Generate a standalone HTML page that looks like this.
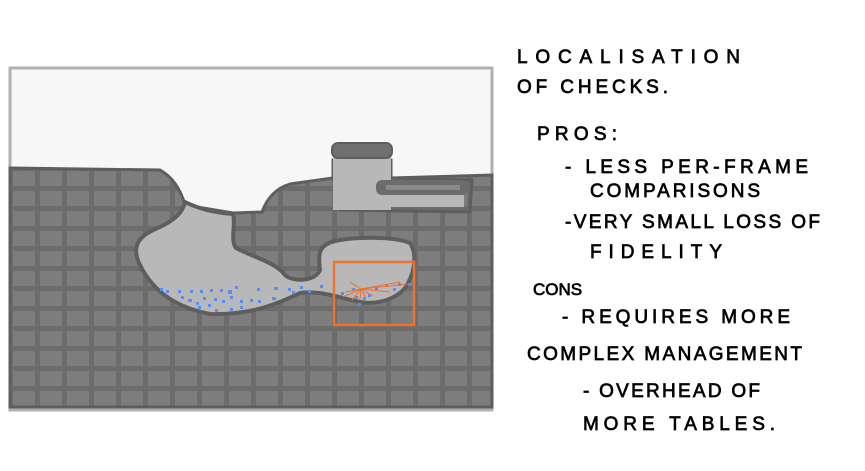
<!DOCTYPE html>
<html><head><meta charset="utf-8"><style>
html,body{margin:0;padding:0;background:#fff;width:865px;height:471px;overflow:hidden}
text{font-family:"Liberation Sans",sans-serif;font-size:19px;fill:#000;stroke:#000;stroke-width:0.7}
</style></head><body>
<svg width="865" height="471" viewBox="0 0 865 471" xmlns="http://www.w3.org/2000/svg">
<defs>
<pattern id="g" x="10" y="168" width="27" height="20" patternUnits="userSpaceOnUse">
<rect width="27" height="20" fill="#6c6c6c"/>
<rect x="3" y="3" width="22" height="15" fill="#7d7d7d"/>
</pattern>
</defs>
<rect x="10" y="68" width="482" height="342" fill="#f7f7f7" stroke="#b0b0b0" stroke-width="3"/>
<path d="M10,168 L160,170 Q178,180 185,205 L233,213 L262,212 Q270,190 290,184 L333,178 L333,160 L391,160 L391,178 L492,175 L492,407 L10,407 Z" fill="url(#g)" stroke="#5e5e5e" stroke-width="3"/>
<path d="M185,202 Q205,212 233,214 C236,225 230,240 236,248 C255,258 275,262 285,275 C292,282 315,282 320,270 C318,255 318,245 335,241 C360,236 395,237 410,243 C418,255 414,275 405,288 C395,300 375,305 360,302 C340,298 320,290 300,293 C275,305 250,315 210,314 C180,308 155,295 140,265 C130,245 140,235 160,227 C175,220 183,212 185,202 Z" fill="#b8b8b8" stroke="#5e5e5e" stroke-width="4"/>
<path d="M340,180 L340,210 L470,212 L472,180 L380,178" fill="url(#g)" stroke="#5e5e5e" stroke-width="3"/>
<rect x="333" y="155" width="58" height="55" fill="#b8b8b8"/>
<rect x="388" y="195" width="76" height="12" fill="#b8b8b8"/>
<rect x="376" y="180" width="92" height="15" rx="6" fill="#6c6c6c"/>
<rect x="386" y="185" width="74" height="5" fill="#8a8a8a"/>
<rect x="332" y="143" width="60" height="15" rx="6" fill="#707070" stroke="#5e5e5e" stroke-width="2"/>
<g fill="#5b8cf0">
<rect x="160" y="288" width="3" height="3"/><rect x="166" y="290" width="3" height="3"/><rect x="178" y="290" width="3" height="3"/><rect x="190" y="290" width="3" height="3"/><rect x="200" y="290" width="3" height="3"/><rect x="210" y="289" width="3" height="3"/><rect x="220" y="289" width="3" height="3"/><rect x="228" y="290" width="4" height="4"/><rect x="235" y="286" width="3" height="3"/><rect x="257" y="288" width="3" height="3"/><rect x="274" y="287" width="4" height="3"/><rect x="288" y="288" width="3" height="3"/><rect x="300" y="286" width="3" height="3"/><rect x="320" y="285" width="3" height="3"/>
<rect x="181" y="296" width="3" height="3"/><rect x="188" y="299" width="4" height="3"/><rect x="196" y="302" width="3" height="3"/><rect x="203" y="297" width="3" height="3"/><rect x="214" y="298" width="3" height="3"/><rect x="222" y="300" width="3" height="3"/><rect x="230" y="296" width="3" height="3"/><rect x="240" y="300" width="3" height="3"/><rect x="250" y="299" width="3" height="3"/><rect x="258" y="300" width="3" height="3"/><rect x="272" y="297" width="4" height="3"/><rect x="292" y="291" width="3" height="3"/><rect x="308" y="290" width="3" height="3"/>
<rect x="198" y="306" width="3" height="3"/><rect x="208" y="304" width="3" height="3"/><rect x="215" y="309" width="3" height="3"/><rect x="230" y="308" width="3" height="3"/><rect x="240" y="306" width="3" height="3"/>
<rect x="341" y="292" width="3" height="3"/><rect x="352" y="288" width="3" height="3"/><rect x="355" y="296" width="3" height="3"/><rect x="368" y="294" width="3" height="3"/><rect x="375" y="287" width="3" height="3"/><rect x="385" y="284" width="3" height="3"/><rect x="393" y="288" width="3" height="3"/><rect x="398" y="283" width="3" height="3"/><rect x="408" y="283" width="3" height="3"/><rect x="358" y="303" width="3" height="3"/><rect x="363" y="297" width="3" height="3"/>
</g>
<g stroke="#f07030" stroke-width="1">
<line x1="361" y1="289" x2="345" y2="292"/><line x1="361" y1="289" x2="350" y2="282"/><line x1="361" y1="289" x2="352" y2="300"/><line x1="361" y1="289" x2="360" y2="300"/><line x1="361" y1="289" x2="366" y2="298"/><line x1="361" y1="289" x2="373" y2="296"/><line x1="361" y1="289" x2="378" y2="287"/><line x1="361" y1="289" x2="400" y2="282"/><line x1="361" y1="289" x2="408" y2="284"/><line x1="361" y1="289" x2="390" y2="292"/><line x1="361" y1="289" x2="343" y2="297"/>
</g>
<rect x="334" y="262" width="80" height="63" fill="none" stroke="#f07030" stroke-width="2.5"/>
<text x="517" y="63" textLength="223">LOCALISATION</text>
<text x="517" y="93" textLength="151">OF CHECKS.</text>
<text x="537" y="140" textLength="80">PROS:</text>
<text x="565" y="173" textLength="243">- LESS PER-FRAME</text>
<text x="590" y="197" textLength="170">COMPARISONS</text>
<text x="565" y="228" textLength="255">-VERY SMALL LOSS OF</text>
<text x="590" y="258" textLength="132">FIDELITY</text>
<text x="533" y="295" style="font-size:17px">CONS</text>
<text x="562" y="323" textLength="228">- REQUIRES MORE</text>
<text x="527" y="360" textLength="275">COMPLEX MANAGEMENT</text>
<text x="583" y="397" textLength="177">- OVERHEAD OF</text>
<text x="583" y="430" textLength="192">MORE TABLES.</text>
</svg>
</body></html>
